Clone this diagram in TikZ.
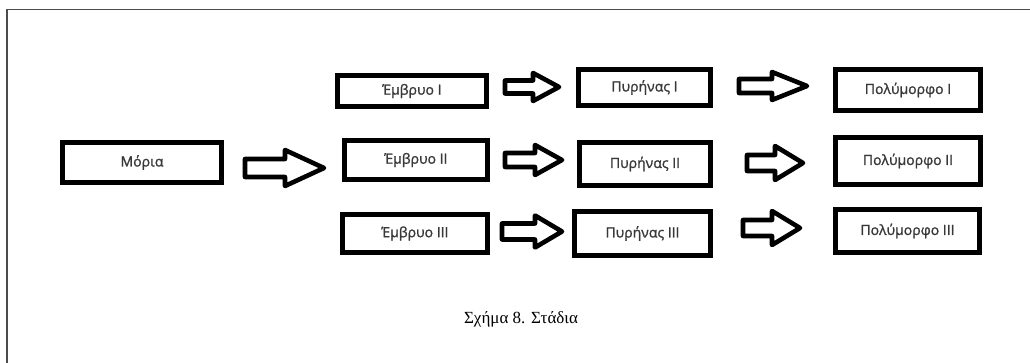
\documentclass[tikz,border=0pt]{standalone}
\usepackage{fontspec}
\setmainfont{Liberation Serif}
\newfontfamily\labelfont[FakeBold=1.3]{Open Sans}
\begin{document}
\begin{tikzpicture}[x=1pt,y=-1pt,
  stagebox/.style={draw=black,line width=5pt,inner sep=0pt,
    font=\labelfont\fontsize{14}{16}\selectfont,text=black!78},
  blockarrow/.style={draw=black,line width=4.6pt,line join=round,fill=white},
  frameline/.style={draw=black!70,line width=1.6pt}]
\useasboundingbox (0,0) rectangle (1030,363);
\fill[white] (0,0) rectangle (1030,363);
\draw[frameline] (7,363) -- (7,9.5) -- (1030,9.5);
\newcommand\barrow[6]{%
  \draw[blockarrow] (#1,#4-#5) -- (#2,#4-#5) -- (#2,#4-#6) -- (#3,#4)
    -- (#2,#4+#6) -- (#2,#4+#5) -- (#1,#4+#5) -- cycle;}
% boxes
\node[stagebox,minimum width=159,minimum height=40] (mor) at (142,162.5) {Μόρια\hspace{16pt}};
\node[stagebox,minimum width=149,minimum height=31] (e1) at (412,91) {Έμβρυο I\hspace{12pt}};
\node[stagebox,minimum width=143,minimum height=39] (e2) at (416,160) {Έμβρυο II\hspace{14pt}};
\node[stagebox,minimum width=145,minimum height=38] (e3) at (415,233.5) {Έμβρυο III};
\node[stagebox,minimum width=132,minimum height=36] (p1) at (644.5,87.5) {Πυρήνας I};
\node[stagebox,minimum width=131,minimum height=43] (p2) at (645,164) {Πυρήνας II};
\node[stagebox,minimum width=136,minimum height=44] (p3) at (642.5,233.5) {Πυρήνας III};
\node[stagebox,minimum width=145,minimum height=41] (q1) at (908,90) {Πολύμορφο I};
\node[stagebox,minimum width=145,minimum height=47] (q2) at (908,161) {Πολύμορφο II};
\node[stagebox,minimum width=144,minimum height=43] (q3) at (907.5,231) {Πολύμορφο III};
% block arrows
\barrow{245}{285}{324}{168}{9}{18}
\barrow{505}{533}{559}{87}{6.5}{14}
\barrow{739}{772}{807}{86}{7}{14}
\barrow{505}{535}{562}{160}{7}{15}
\barrow{747}{775}{803}{163}{8}{17}
\barrow{502}{535}{562}{231.5}{8}{16}
\barrow{743}{772}{800}{228}{8}{17}
% caption
\node[font=\fontsize{17}{20}\selectfont] (cap) at (521,319) {Σχήμα 8. Στάδια};
\end{tikzpicture}
\end{document}
